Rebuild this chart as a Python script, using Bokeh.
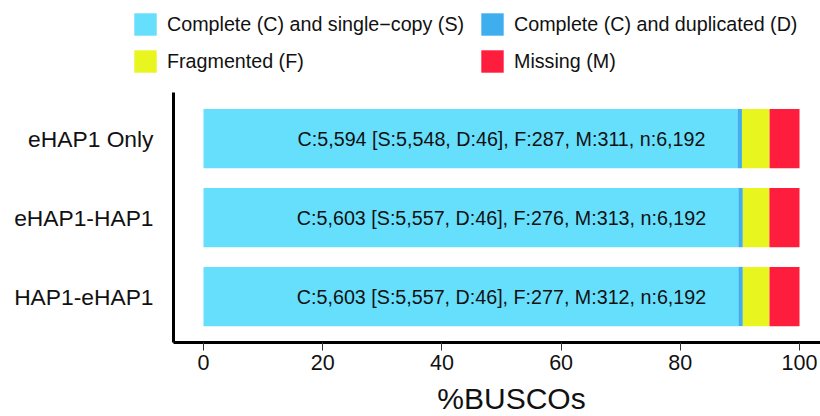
from bokeh.plotting import figure
from bokeh.models import ColumnDataSource, Range1d, FixedTicker, Legend, LegendItem, Label
from bokeh.core.properties import value
from bokeh.embed import file_html
from bokeh.resources import INLINE

# ---- data ----
categories = ["eHAP1 Only", "eHAP1-HAP1", "HAP1-eHAP1"]
single_copy = [5548, 5557, 5557]
duplicated = [46, 46, 46]
fragmented = [287, 276, 277]
missing = [311, 313, 312]
total = [6192, 6192, 6192]
x_ticks = [0, 20, 40, 60, 80, 100]
x_title = "%BUSCOs"

series_names = ["Complete (C) and single\u2212copy (S)", "Complete (C) and duplicated (D)",
                "Fragmented (F)", "Missing (M)"]
colors = ["#66DFFD", "#3FAEEF", "#E9F51F", "#FE1D3D"]
FONT = "Liberation Sans"

ypos = [len(categories) - i for i in range(len(categories))]
pct = lambda a: [v / t * 100 for v, t in zip(a, total)]
labels = [f"C:{s + d:,} [S:{s:,}, D:{d:,}], F:{f:,}, M:{m:,}, n:{n:,}"
          for s, d, f, m, n in zip(single_copy, duplicated, fragmented, missing, total)]

src = ColumnDataSource(dict(y=ypos, S=pct(single_copy), D=pct(duplicated),
                            F=pct(fragmented), M=pct(missing), label=labels,
                            lx=[50] * len(categories)))

# axis extents (data units) and full view ranges
X0, X1 = -5.03, 103.52
Y0, Y1 = 0.418, 3.582

p = figure(width=820, height=416, output_backend="svg", toolbar_location=None,
           x_range=Range1d(-34.06, X1), y_range=Range1d(-0.519, 4.747),
           min_border_left=0, min_border_right=0, min_border_top=0, min_border_bottom=0)

rs = p.hbar_stack(["S", "D", "F", "M"], y="y", height=0.75, color=colors, source=src,
                  line_color=None)

p.text(x="lx", y="y", text="label", source=src, text_align="center", text_baseline="middle",
       text_font=value(FONT), text_font_size="19.7px", text_color="#111111")

legend = Legend(items=[LegendItem(label=n, renderers=[r]) for n, r in zip(series_names, rs)],
                orientation="horizontal", ncols=2, location=(131, 341),
                glyph_width=28, glyph_height=28, label_standoff=8, spacing=9,
                label_width=302, padding=0, margin=0, border_line_color=None,
                background_fill_alpha=0, label_text_font=FONT, label_text_font_size="19.7px",
                label_text_color="#111111", label_text_baseline="middle")
p.add_layout(legend)

p.add_layout(Label(x=511, y=18, x_units="screen", y_units="screen", text=x_title,
                   text_align="center", text_baseline="alphabetic", text_font=FONT,
                   text_font_size="30px", text_color="#111111"))

p.xgrid.visible = False
p.ygrid.visible = False
p.outline_line_color = None

xa = p.xaxis[0]
xa.fixed_location = Y0
xa.bounds = (X0, X1)
xa.ticker = FixedTicker(ticks=x_ticks)
xa.axis_line_width = 3
xa.axis_line_color = "black"
xa.major_tick_out = 8
xa.major_tick_in = 0
xa.major_tick_line_color = "#333333"
xa.minor_tick_line_color = None
xa.major_label_standoff = 5
xa.major_label_text_font = FONT
xa.major_label_text_font_size = "21.5px"
xa.major_label_text_color = "#111111"

ya = p.yaxis[0]
ya.fixed_location = X0
ya.bounds = (Y0, Y1)
ya.ticker = FixedTicker(ticks=ypos)
ya.major_label_overrides = {y: c for y, c in zip(ypos, categories)}
ya.axis_line_width = 3
ya.axis_line_color = "black"
ya.major_tick_line_color = None
ya.minor_tick_line_color = None
ya.major_tick_out = 0
ya.major_tick_in = 0
ya.major_label_standoff = 20
ya.major_label_text_font = FONT
ya.major_label_text_font_size = "22.8px"
ya.major_label_text_color = "#111111"

open("out.html", "w").write(file_html(p, INLINE))
